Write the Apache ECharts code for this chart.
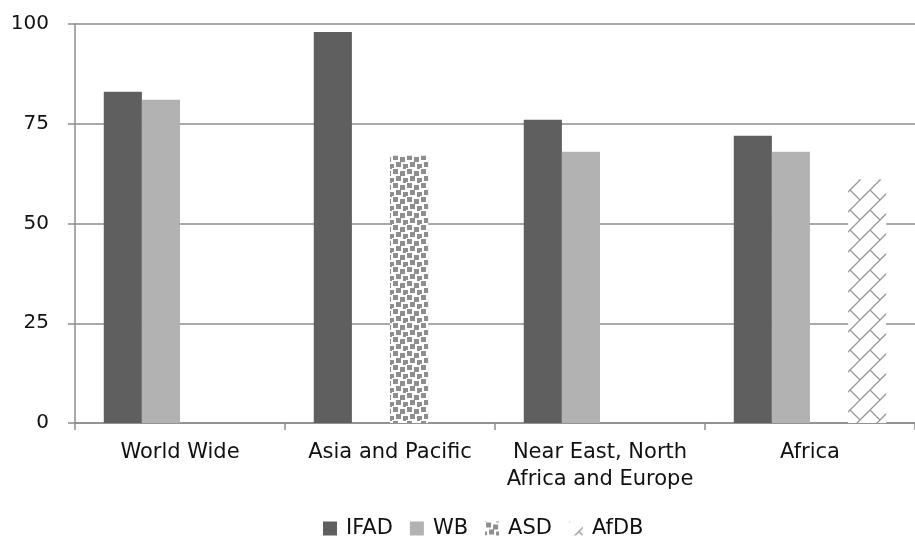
<!DOCTYPE html>
<html>
<head>
<meta charset="utf-8">
<script src="https://cdn.jsdelivr.net/npm/echarts@6/dist/echarts.min.js"></script>
<style>
html,body{margin:0;padding:0;background:#fff;}
#chart{width:915px;height:539px;}
</style>
</head>
<body>
<div id="chart"></div>
<script>
const categories = ['World Wide', 'Asia and Pacific', 'Near East, North\nAfrica and Europe', 'Africa'];
const seriesNames = ['IFAD', 'WB', 'ASD', 'AfDB'];
const ifad = [83, 98, 76, 72];
const wb = [81, null, 68, 68];
const asd = [null, 67, null, null];
const afdb = [null, null, null, 61];
const yTicks = [0, 25, 50, 75, 100];

function dotPattern() {
  const s = 14;
  const c = document.createElement('canvas');
  c.width = s; c.height = s;
  const g = c.getContext('2d');
  g.fillStyle = '#ffffff'; g.fillRect(0, 0, s, s);
  g.fillStyle = '#8e8e8e';
  g.fillRect(1, 1, 5, 5);
  g.fillRect(8, 3, 5, 5);
  g.fillRect(4, 8, 5, 5);
  g.fillRect(11, 10, 3, 4);
  g.fillRect(0, 10, 2, 4);
  g.fillRect(11, 0, 3, 1);
  return c;
}
function zigPattern() {
  const s = 20;
  const c = document.createElement('canvas');
  c.width = s; c.height = s;
  const g = c.getContext('2d');
  g.fillStyle = '#ffffff'; g.fillRect(0, 0, s, s);
  g.strokeStyle = '#9a9a9a'; g.lineWidth = 1.4;
  g.beginPath();
  g.moveTo(-2, s + 2); g.lineTo(s + 2, -2);
  g.moveTo(s / 2, s / 2); g.lineTo(s + 1, s + 1);
  g.moveTo(-1, -1); g.lineTo(0.5, 0.5);
  g.stroke();
  return c;
}

const chart = echarts.init(document.getElementById('chart'), null, {renderer: 'canvas'});
const axisGray = '#8c8c8c';
const font = 'DejaVu Sans';
const colors = [
  '#5f5f5f',
  '#b2b2b2',
  {image: dotPattern(), repeat: 'repeat'},
  {image: zigPattern(), repeat: 'repeat'}
];
const data = [ifad, wb, asd, afdb];

chart.setOption({
  animation: false,
  backgroundColor: '#ffffff',
  grid: {left: 75, right: -8, top: 24, bottom: 116, containLabel: false},
  legend: {
    top: 513,
    left: 318,
    icon: 'rect',
    itemWidth: 14,
    itemHeight: 14,
    itemGap: 17,
    textStyle: {fontFamily: font, fontSize: 21, color: '#111', padding: [0, 0, 0, 4]},
    data: seriesNames
  },
  xAxis: {
    type: 'category',
    data: categories,
    axisLine: {show: true, lineStyle: {color: axisGray, width: 1.5}},
    axisTick: {show: true, alignWithLabel: false, length: 7, lineStyle: {color: axisGray, width: 1.5}},
    axisLabel: {fontFamily: font, fontSize: 21, color: '#111', margin: 16, lineHeight: 27, interval: 0}
  },
  yAxis: {
    type: 'value',
    min: yTicks[0],
    max: yTicks[yTicks.length - 1],
    interval: yTicks[1] - yTicks[0],
    axisLine: {show: true, lineStyle: {color: axisGray, width: 1.5}},
    axisTick: {show: true, length: 7, lineStyle: {color: axisGray, width: 1.5}},
    axisLabel: {fontFamily: font, fontSize: 20, color: '#111', margin: 26},
    splitLine: {show: true, lineStyle: {color: axisGray, width: 1.5}}
  },
  series: seriesNames.map((n, i) => ({
    name: n,
    type: 'bar',
    data: data[i],
    barGap: '0%',
    barCategoryGap: '27.4%',
    itemStyle: {color: colors[i]}
  }))
});
</script>
</body>
</html>
